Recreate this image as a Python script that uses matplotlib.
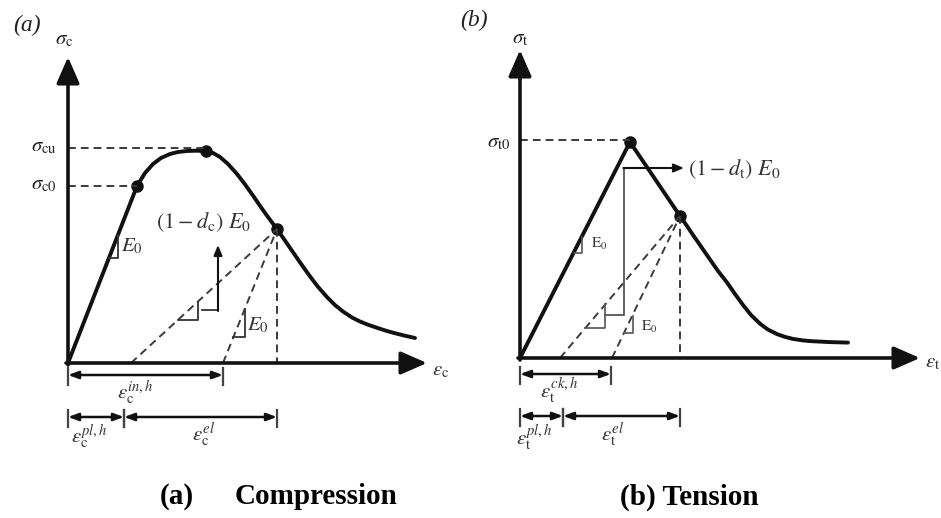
import matplotlib
matplotlib.use("Agg")
import matplotlib.pyplot as plt

plt.rcParams['font.family'] = ['Liberation Serif', 'DejaVu Serif']
plt.rcParams['mathtext.fontset'] = 'stix'

# ---------------- data (schematic strain / stress, arbitrary units) ----------------
# Compression branch
comp_strain = [0, 69, 77, 85, 93, 102, 110, 119, 128, 138, 145, 152, 160, 169, 177, 185, 192,
               199, 204, 209, 217, 225, 233, 242, 250, 259, 267, 275, 284, 292, 300, 309, 317,
               325, 336, 347]
comp_stress = [0, 177, 190, 199, 205, 209, 211, 212, 212.3, 212, 210, 206, 199, 189, 178.6, 167.4, 157.2,
               147.3, 140.6, 134, 122.4, 110.8, 99.2, 86.6, 76.2, 65.9, 57.9, 51.5, 45.5, 41.5, 38.3, 35.2, 32.6,
               30.3, 27.5, 25]
comp_mark_strain = [69, 138, 209]          # sigma_c0, sigma_cu, unloading point
comp_mark_stress = [177, 212, 134]
comp_unload_zero = [63, 155]               # damaged / elastic unloading intercepts
comp_pl = 56                                # plastic strain tick
comp_in = 155                               # inelastic strain

# Tension branch
tens_strain = [0, 110, 160, 167, 173, 181, 190, 198, 207, 215, 223, 231, 240, 248, 257, 265,
               273, 282, 290, 310, 328]
tens_stress = [0, 216, 142, 132, 123, 111.5, 98.5, 87, 75.5, 64, 53, 43, 34.3, 28.4, 23.9, 21.1,
               19.1, 17.7, 16.9, 15.9, 15.4]
tens_mark_strain = [110, 160]              # sigma_t0, unloading point
tens_mark_stress = [216, 142]
tens_unload_zero = [40, 92]
tens_pl = 43
tens_ck = 91

W, H = 941, 518
fig = plt.figure(figsize=(W / 100, H / 100), dpi=100)

ink = '#111111'
dash_col = '#3a3a3a'
dash = (0, (4, 2.6))


def make_axes(ox, oy):
    ax = fig.add_axes([0, 0, 1, 1])
    ax.set_xlim(-ox, W - ox)
    ax.set_ylim(-(H - oy), oy)
    ax.axis('off')
    ax.patch.set_alpha(0)
    return ax


def axis_arrows(ax, xtip, ytip):
    st = '-|>,head_length=1.6,head_width=0.7'
    ax.annotate('', xy=(0, ytip), xytext=(0, -2),
                arrowprops=dict(arrowstyle=st, lw=2.6, color=ink, shrinkA=0, shrinkB=0))
    ax.annotate('', xy=(xtip, 0), xytext=(-2, 0),
                arrowprops=dict(arrowstyle=st, lw=2.6, color=ink, shrinkA=0, shrinkB=0))


def dim(ax, x0, x1, y):
    ax.annotate('', xy=(x1, y), xytext=(x0, y),
                arrowprops=dict(arrowstyle='<|-|>,head_length=0.6,head_width=0.22',
                                lw=1.8, color=ink, shrinkA=0, shrinkB=0))
    for xx in (x0, x1):
        ax.plot([xx, xx], [y + 7, y - 10], color='#444444', lw=1.6)


curve_kw = dict(color=ink, lw=2.8, solid_capstyle='round', solid_joinstyle='round')

# ===================== (a) Compression =====================
ax = make_axes(68, 363)
axis_arrows(ax, 359, 306)

ax.plot(comp_strain, comp_stress, **curve_kw)
ax.plot(comp_mark_strain, comp_mark_stress, 'o', color=ink, ms=8)

# dashed guides
ax.plot([0, comp_mark_strain[1]], [comp_mark_stress[1] + 3, comp_mark_stress[1] + 3], color=dash_col, lw=1.4, ls=dash)
ax.plot([0, comp_mark_strain[0]], [comp_mark_stress[0], comp_mark_stress[0]], color=dash_col, lw=1.4, ls=dash)
ax.plot([comp_mark_strain[2], comp_mark_strain[2]], [comp_mark_stress[2], 0], color=dash_col, lw=1.4, ls=dash)
for x0 in comp_unload_zero:
    ax.plot([x0, comp_mark_strain[2]], [0, comp_mark_stress[2]], color=dash_col, lw=1.4, ls=dash)

# slope markers
ax.plot([41, 50, 50], [105, 105, 128], color='#333333', lw=1.3)
ax.plot([165, 177, 177], [26, 26, 54], color='#333333', lw=1.3)
ax.plot([110, 130, 130], [43, 43, 61], color='#333333', lw=1.3)
ax.plot([134, 150], [53, 53], color='#333333', lw=1.3)
ax.annotate('', xy=(150, 118), xytext=(150, 52),
            arrowprops=dict(arrowstyle='-|>,head_length=0.6,head_width=0.25', lw=1.5,
                            color=ink, shrinkA=0, shrinkB=0))

ax.text(-41, 338, '(a)', fontsize=17, style='italic', ha='center', va='center', color='#222222')
ax.text(-13, 323, r'$\sigma_{\rm c}$', fontsize=15, ha='left', va='center', color='#222222')
ax.text(-11, 216, r'$\sigma_{\rm cu}$', fontsize=15, ha='right', va='center', color='#222222')
ax.text(-11, 178, r'$\sigma_{\rm c0}$', fontsize=15, ha='right', va='center', color='#222222')
ax.text(135, 141, r'$(1-d_{\rm c})\ E_{\rm 0}$', fontsize=16, ha='center', va='center', color='#333333')
ax.text(53, 117, r'$E_{\rm 0}$', fontsize=15, ha='left', va='center', color='#333333')
ax.text(179, 38, r'$E_{\rm 0}$', fontsize=15, ha='left', va='center', color='#333333')
ax.text(364, -8, r'$\varepsilon_{\rm c}$', fontsize=15, ha='left', va='center', color='#333333')

dim(ax, 0, comp_in, -12)
dim(ax, 0, comp_pl, -54)
dim(ax, comp_pl, comp_mark_strain[2], -54)
ax.text(49, -30, r'$\varepsilon_{\rm c}^{in,h}$', fontsize=15, ha='left', va='center', color='#333333')
ax.text(3, -74, r'$\varepsilon_{\rm c}^{pl,h}$', fontsize=15, ha='left', va='center', color='#333333')
ax.text(124, -72, r'$\varepsilon_{\rm c}^{el}$', fontsize=15, ha='left', va='center', color='#333333')

# ===================== (b) Tension =====================
bx = make_axes(520, 358)
axis_arrows(bx, 400, 308)

bx.plot(tens_strain, tens_stress, **curve_kw)
bx.plot(tens_mark_strain, tens_mark_stress, 'o', color=ink, ms=8)

bx.plot([0, tens_mark_strain[0]], [tens_mark_stress[0] + 2, tens_mark_stress[0] + 2], color=dash_col, lw=1.4, ls=dash)
bx.plot([tens_mark_strain[1], tens_mark_strain[1]], [tens_mark_stress[1], 0], color=dash_col, lw=1.4, ls=dash)
for x0 in tens_unload_zero:
    bx.plot([x0, tens_mark_strain[1]], [0, tens_mark_stress[1]], color=dash_col, lw=1.4, ls=dash)

bx.plot([54, 62, 62], [105, 105, 121], color='#555555', lw=1.2)
bx.plot([104, 113, 113], [25, 25, 42], color='#555555', lw=1.2)
bx.plot([65, 85, 85], [30, 30, 54], color='#555555', lw=1.2)
bx.plot([85, 104, 104], [43, 43, 190], color='#555555', lw=1.3)
bx.annotate('', xy=(164, 190), xytext=(103.4, 190),
            arrowprops=dict(arrowstyle='-|>,head_length=0.6,head_width=0.25', lw=1.5,
                            color=ink, shrinkA=0, shrinkB=0))

bx.text(-46, 338, '(b)', fontsize=17, style='italic', ha='center', va='center', color='#222222')
bx.text(-8, 319, r'$\sigma_{\rm t}$', fontsize=15, ha='left', va='center', color='#222222')
bx.text(-10, 215, r'$\sigma_{\rm t0}$', fontsize=15, ha='right', va='center', color='#222222')
bx.text(168, 189, r'$(1-d_{\rm t})\ E_{\rm 0}$', fontsize=16, ha='left', va='center', color='#333333')
bx.text(71, 114, r'$\mathrm{E}_{\rm 0}$', fontsize=11, ha='left', va='center', color='#333333')
bx.text(121, 31, r'$\mathrm{E}_{\rm 0}$', fontsize=11, ha='left', va='center', color='#333333')
bx.text(405, -5, r'$\varepsilon_{\rm t}$', fontsize=15, ha='left', va='center', color='#333333')

dim(bx, 0, tens_ck, -16)
dim(bx, 0, tens_pl, -58)
dim(bx, tens_pl, tens_mark_strain[1], -58)
bx.text(20, -33, r'$\varepsilon_{\rm t}^{ck,h}$', fontsize=15, ha='left', va='center', color='#333333')
bx.text(-4, -80, r'$\varepsilon_{\rm t}^{pl,h}$', fontsize=15, ha='left', va='center', color='#333333')
bx.text(81, -77, r'$\varepsilon_{\rm t}^{el}$', fontsize=15, ha='left', va='center', color='#333333')

# ---------------- captions ----------------
cy = 1 - 497 / H
fig.text(160 / W, cy, '(a)', fontsize=21, fontweight='bold', ha='left', va='center')
fig.text(235 / W, cy, 'Compression', fontsize=21, fontweight='bold', ha='left', va='center')
fig.text(620 / W, cy, '(b) Tension', fontsize=21, fontweight='bold', ha='left', va='center')

fig.savefig('out.png', dpi=100)
